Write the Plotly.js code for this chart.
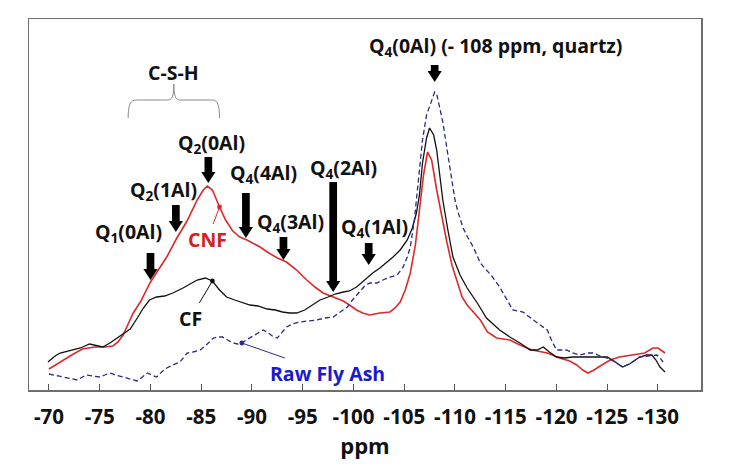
<!DOCTYPE html>
<html>
<head>
<meta charset="utf-8">
<script src="https://cdn.plot.ly/plotly-3.0.1.min.js"></script>
<style>html,body{margin:0;padding:0;background:#fff;}#chart{width:750px;height:470px;}</style>
</head>
<body>
<div id="chart"></div>
<script>
// ---- data (ppm, relative intensity) ----
const cnfPpm = [-70.0,-71.1,-72.4,-73.3,-74.5,-75.5,-76.3,-76.8,-77.3,-78.3,-79.0,-80.0,-80.9,-81.6,-82.6,-83.6,-84.6,-85.2,-85.6,-86.1,-86.8,-87.4,-88.1,-88.8,-89.5,-90.1,-90.8,-91.5,-92.5,-93.4,-94.4,-95.4,-96.2,-97.0,-98.0,-99.0,-99.6,-100.3,-100.9,-101.6,-102.6,-103.6,-104.1,-104.6,-105.1,-105.6,-106.1,-106.5,-106.9,-107.3,-107.7,-108.2,-108.7,-109.2,-109.7,-110.2,-110.7,-111.2,-111.7,-112.5,-113.2,-114.1,-115.4,-116.4,-117.6,-119.1,-120.3,-121.3,-122.0,-122.6,-123.1,-123.7,-124.3,-125.3,-126.2,-127.5,-128.7,-129.5,-130.0,-130.7];
const cnfInt = [21,28,36,41,43,43,44,48,55,77,88,108,122,133,152,169,190,200,204,200,183,170,159,153,150,147,143,138,132,128,120,110,103,97,93,89,85,80,77,75,77,78,82,88,100,117,145,180,215,238,230,200,172,148,125,108,93,85,79,70,58,52,50,45,40,37,32,29,25,20,17,20,24,30,33,35,37,42,42,37];

const cfPpm = [-69.9,-70.6,-71.1,-71.8,-72.4,-73.1,-74.0,-74.7,-75.3,-76.0,-76.7,-77.3,-78.0,-78.7,-79.3,-79.9,-80.6,-81.4,-82.2,-83.2,-83.9,-84.6,-85.4,-86.1,-86.8,-87.5,-88.3,-89.0,-89.8,-90.6,-91.5,-92.3,-93.0,-93.7,-94.4,-95.2,-95.9,-96.7,-97.5,-98.2,-99.0,-99.6,-100.3,-101.1,-101.9,-102.6,-103.3,-103.9,-104.6,-105.3,-105.8,-106.2,-106.5,-106.8,-107.2,-107.5,-107.9,-108.2,-108.5,-108.8,-109.3,-109.8,-110.5,-111.2,-112.2,-113.1,-114.4,-115.4,-116.4,-117.4,-118.1,-118.7,-119.3,-120.0,-120.8,-121.6,-122.6,-123.6,-124.3,-125.0,-125.8,-126.5,-127.2,-128.2,-128.9,-129.4,-129.8,-130.2,-130.7];
const cfInt = [28,34,37,39,40,42,46,44,43,47,52,56,61,72,82,90,93,94,97,102,106,110,112,109,100,93,90,88,85,84,81,80,78,77,77,80,85,90,93,96,98,99,103,110,117,122,128,133,140,150,162,177,195,227,252,262,255,240,215,190,160,133,115,102,87,72,60,53,47,40,40,43,38,33,32,33,33,33,33,33,28,23,26,33,35,35,30,23,18];

const ashPpm = [-70.0,-70.9,-71.8,-72.8,-73.3,-73.7,-74.3,-75.0,-75.5,-76.0,-76.6,-77.3,-78.0,-78.7,-79.2,-79.7,-80.1,-80.6,-81.1,-81.6,-82.2,-82.9,-83.3,-83.6,-84.2,-84.9,-85.6,-86.2,-86.6,-87.1,-87.6,-88.1,-88.6,-89.0,-89.6,-90.1,-90.6,-91.1,-91.5,-92.0,-92.5,-93.0,-93.4,-94.0,-94.7,-95.5,-96.4,-97.2,-98.0,-98.7,-99.4,-99.9,-100.6,-101.1,-101.6,-102.3,-102.9,-103.6,-104.3,-104.9,-105.3,-105.6,-106.0,-106.4,-106.6,-106.8,-107.2,-107.5,-107.8,-108.0,-108.2,-108.5,-108.8,-109.0,-109.3,-109.7,-110.0,-110.3,-110.8,-111.3,-111.8,-112.5,-113.1,-113.7,-114.4,-115.1,-115.7,-116.2,-116.7,-117.2,-117.7,-118.4,-119.1,-119.5,-120.0,-120.5,-121.0,-121.6,-122.3,-123.0,-123.6,-124.3,-125.0,-125.8,-126.5,-127.2,-128.2,-129.0,-129.9,-130.2,-130.5];
const ashInt = [16,14,12,10,13,15,14,13,15,17,15,13,11,9,13,17,15,13,18,22,25,28,33,37,38,40,46,52,53,53,50,47,46,47,51,54,57,60,58,54,52,58,63,66,68,69,70,72,73,78,83,90,98,104,107,107,110,113,115,123,133,143,170,210,235,250,275,283,293,298,296,283,268,255,235,207,190,178,162,152,143,127,120,113,103,90,80,79,78,74,70,65,60,50,40,40,40,37,35,37,37,34,32,28,23,26,33,34,35,32,28];

const tickVals = [-70,-75,-80,-85,-90,-95,-100,-105,-110,-115,-120,-125,-130];
const tickText = ['-70','-75','-80','-85','-90','-95','-100','-105','-110','-115','-120','-125','-130'];

// peak assignment labels
const peakLabels = ['Q<sub>1</sub>(0Al)','Q<sub>2</sub>(1Al)','Q<sub>2</sub>(0Al)','Q<sub>4</sub>(4Al)','Q<sub>4</sub>(3Al)','Q<sub>4</sub>(2Al)','Q<sub>4</sub>(1Al)','Q<sub>4</sub>(0Al) (- 108 ppm, quartz)'];
const labelPpm = [-77.8,-81.3,-86.0,-91.1,-93.8,-99.0,-102.1,-114.0];
const labelInt = [158,200,247,217,168,222,163,344];
// arrows: tip position and length
const arrowPpm = [-80.0,-82.5,-85.7,-89.4,-93.1,-98.0,-101.5,-108.0];
const arrowInt = [110,158,207,152,130,98,125,308];
const arrowLen = [27,27,26,45,23,110,22,17];

// ---- figure ----
const FONT = '"Open Sans", "Noto Sans", sans-serif';
const BOLD = {family: FONT, size: 19.5, color: '#111', weight: 'bold'};
const traces = [
  {x: cnfPpm, y: cnfInt, mode: 'lines', name: 'CNF', line: {color: '#dc2a2a', width: 1.6}, showlegend: false, hoverinfo: 'skip'},
  {x: cfPpm, y: cfInt, mode: 'lines', name: 'CF', line: {color: '#111111', width: 1.3}, showlegend: false, hoverinfo: 'skip'},
  {x: ashPpm, y: ashInt, mode: 'lines', name: 'Raw Fly Ash', line: {color: '#2a2a8a', width: 1.3, dash: '5px,3px'}, showlegend: false, hoverinfo: 'skip'}
];

const ann = [];
const shapes = [];
for (let i = 0; i < peakLabels.length; i++) {
  ann.push({x: labelPpm[i], y: labelInt[i], xref: 'x', yref: 'y', text: '<b>' + peakLabels[i] + '</b>', showarrow: false,
    font: BOLD, xanchor: 'center', yanchor: 'middle'});
  const hx = 0.7, hl = 11, sw = 0.38;
  const tip = arrowInt[i], tail = arrowInt[i] + arrowLen[i], px = arrowPpm[i];
  shapes.push({type: 'rect', xref: 'x', yref: 'y', x0: px - sw, x1: px + sw, y0: tip + hl - 1, y1: tail,
    fillcolor: '#000', line: {width: 0}});
  shapes.push({type: 'path', xref: 'x', yref: 'y',
    path: 'M ' + (px - hx) + ',' + (tip + hl) + ' L ' + (px + hx) + ',' + (tip + hl) + ' L ' + px + ',' + tip + ' Z',
    fillcolor: '#000', line: {width: 0}});
}
ann.push({x: -82.3, y: 318, xref: 'x', yref: 'y', text: '<b>C-S-H</b>', showarrow: false, font: BOLD});
// series labels with leader lines to a dot on the curve
ann.push({x: -86.8, y: 183, xref: 'x', yref: 'y', text: '<b>CNF</b>', showarrow: true, ax: -12, ay: 32,
  arrowhead: 6, arrowsize: 1.2, arrowwidth: 1, arrowcolor: '#dc2a2a', standoff: 0,
  font: {family: FONT, size: 19.5, color: '#d42020', weight: 'bold'}});
ann.push({x: -86.1, y: 109, xref: 'x', yref: 'y', text: '<b>CF</b>', showarrow: true, ax: -22, ay: 37,
  arrowhead: 6, arrowsize: 1.2, arrowwidth: 1, arrowcolor: '#111', standoff: 0,
  font: {family: FONT, size: 19.5, color: '#111', weight: 'bold'}});
ann.push({x: -89.0, y: 47, xref: 'x', yref: 'y', text: '<b>Raw Fly Ash</b>', showarrow: true, ax: 86, ay: 30,
  arrowhead: 6, arrowsize: 1.2, arrowwidth: 1, arrowcolor: '#2a2a8a', standoff: 0,
  font: {family: FONT, size: 19.5, color: '#1a1acd', weight: 'bold'}});

shapes.push({
  type: 'path', xref: 'x', yref: 'y',
  path: 'M -77.8,272 C -77.8,285 -78.0,290 -78.6,290 L -81.7,290 C -82.1,290 -82.3,293 -82.3,306 C -82.3,293 -82.5,290 -82.9,290 L -86.1,290 C -86.6,290 -86.8,285 -86.8,272',
  line: {color: '#8a8a8a', width: 1}
});

const layout = {
  width: 750, height: 470,
  margin: {l: 29, r: 49, t: 19, b: 80},
  paper_bgcolor: '#fff', plot_bgcolor: '#fff',
  showlegend: false,
  xaxis: {
    range: [-68.03, -134.24], showgrid: false, zeroline: false,
    showline: true, mirror: true, linecolor: '#6e6e6e', linewidth: 1.5,
    ticks: 'inside', ticklen: 6, tickcolor: '#555', tickwidth: 1,
    tickmode: 'array', tickvals: tickVals, ticktext: tickText, ticklabelstandoff: 8,
    tickfont: {family: FONT, size: 20.5, color: '#111', weight: 'bold'},
    title: {text: '<b>ppm</b>', standoff: 5, font: {family: FONT, size: 22, color: '#111', weight: 'bold'}}
  },
  yaxis: {
    range: [0, 371], showgrid: false, zeroline: false, showticklabels: false, ticks: '',
    tickmode: 'array', tickvals: [], ticktext: [],
    showline: true, mirror: true, linecolor: '#6e6e6e', linewidth: 1.5
  },
  annotations: ann,
  shapes: shapes
};

Plotly.newPlot('chart', traces, layout, {staticPlot: true, displayModeBar: false});
</script>
</body>
</html>
